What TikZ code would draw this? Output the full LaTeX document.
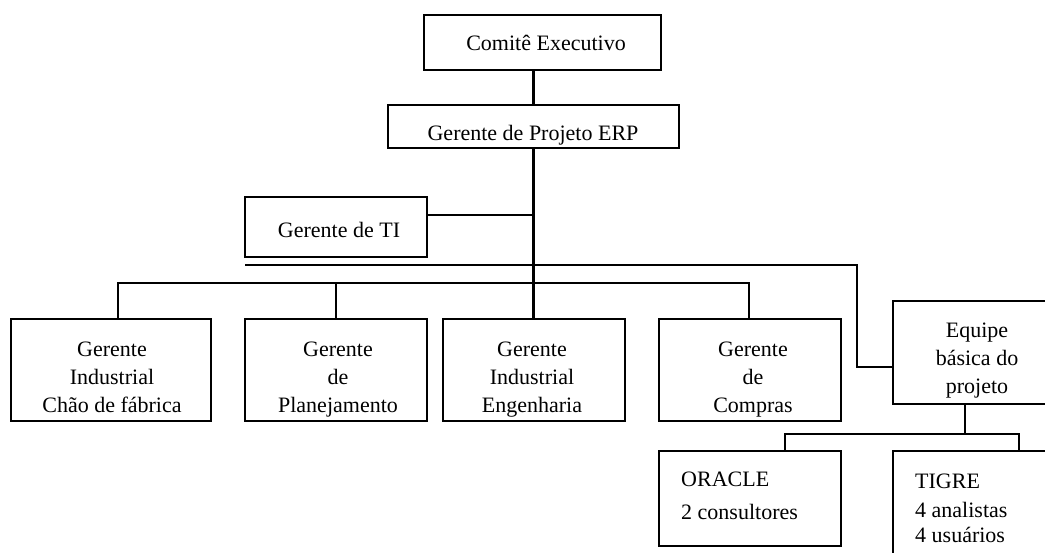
\documentclass[tikz,border=0pt]{standalone}
\usepackage{fontspec}
\setmainfont{Liberation Serif}
\begin{document}
\begin{tikzpicture}[x=1pt,y=-1pt,
  box/.style={draw, line width=2.6pt, inner sep=0pt},
  wire/.style={line width=2.6pt},
  lbl/.style={anchor=base, inner sep=0pt, font=\fontsize{22}{28}\selectfont},
  lblc/.style={lbl, align=center},
  lbll/.style={lbl, anchor=base west, align=left}]
\useasboundingbox (0,0) rectangle (1045,552);
\clip (0,0) rectangle (1045,552);
% boxes
\node[box, minimum width=237pt, minimum height=55pt] (ce) at (542.5,42.5) {};
\node[box, minimum width=291pt, minimum height=43pt] (gp) at (533.5,126.5) {};
\node[box, minimum width=182pt, minimum height=60pt] (ti) at (336,227) {};
\node[box, minimum width=200pt, minimum height=102pt] (b1) at (111,370) {};
\node[box, minimum width=182pt, minimum height=102pt] (b2) at (336,370) {};
\node[box, minimum width=182pt, minimum height=102pt] (b3) at (534,370) {};
\node[box, minimum width=182pt, minimum height=102pt] (b4) at (750,370) {};
\node[box, minimum width=169pt, minimum height=103pt] (eq) at (977.5,352.5) {};
\node[box, minimum width=182pt, minimum height=95pt] (or) at (750,498.5) {};
\node[box, minimum width=169pt, minimum height=110pt] (tg) at (977.5,506) {};
% texts (multi-line nodes: base = baseline of last line)
\node[lbl] (tce) at (546,50) {Comitê Executivo};
\node[lbl] (tgp) at (533,140) {Gerente de Projeto ERP};
\node[lbl] (tti) at (339,237) {Gerente de TI};
\node[lblc] (tb1) at (112,412) {Gerente\\Industrial\\Chão de fábrica};
\node[lblc] (tb2) at (338,412) {Gerente\\de\\Planejamento};
\node[lblc] (tb3) at (532,412) {Gerente\\Industrial\\Engenharia};
\node[lblc] (tb4) at (753,412) {Gerente\\de\\Compras};
\node[lblc] (teq) at (977,393) {Equipe\\básica do\\projeto};
\node[lbll] (tor) at (681,519) {ORACLE\\[5pt]2 consultores};
\node[lbll] (ttg) at (915,542) {TIGRE\\[1pt]4 analistas\\[-3pt]4 usuários};
% junction coordinates
\coordinate (busL) at (245,265);
\coordinate (busR) at (857,265);
\coordinate (busD) at (857,367);
\coordinate (tiJ) at (533.5,215);
\coordinate (bus2L) at (118,283);
\coordinate (bus2R) at (749,283);
\coordinate (eqJ) at (965,434);
\coordinate (tJL) at (785,434);
\coordinate (tJR) at (1019,434);
% connectors
\draw[wire] (gp.north) -- (gp.north |- ce.south);
\draw[wire] (gp.south) -- (gp.south |- b3.north);
\draw[wire] ([yshift=12pt]ti.east) -- (tiJ);
\draw[wire] (busL) -- (busR) -- (busD) -- (busD -| eq.west);
\draw[wire] (bus2L |- b1.north) -- (bus2L) -- (bus2R) -- (bus2R |- b4.north);
\draw[wire] (b2.north) -- (b2.north |- bus2L);
\draw[wire] (eqJ |- eq.south) -- (eqJ);
\draw[wire] (tJL |- or.north) -- (tJL) -- (tJR) -- (tJR |- tg.north);
\end{tikzpicture}
\end{document}
